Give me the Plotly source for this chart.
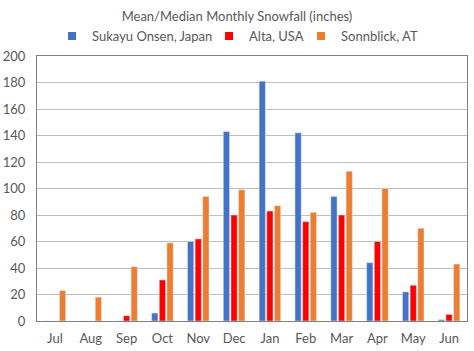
import plotly.graph_objects as go

months = ["Jul", "Aug", "Sep", "Oct", "Nov", "Dec", "Jan", "Feb", "Mar", "Apr", "May", "Jun"]
sukayu = [0, 0, 0, 6, 60, 143, 181, 142, 94, 44, 22, 1]
alta = [0, 0, 4, 31, 62, 80, 83, 75, 80, 60, 27, 5]
sonnblick = [23, 18, 41, 59, 94, 99, 87, 82, 113, 100, 70, 43]
yticks = [0, 20, 40, 60, 80, 100, 120, 140, 160, 180, 200]
series = [
    ("Sukayu Onsen, Japan", sukayu, "#4472C4"),
    ("Alta, USA", alta, "#FF0000"),
    ("Sonnblick, AT", sonnblick, "#ED7D31"),
]
legend_widths = [112, 47, 80]

font = "Lato, 'Open Sans', sans-serif"
txt = "#595959"

fig = go.Figure()
for name, vals, col in series:
    fig.add_bar(x=months, y=vals, name=name, marker_color=col, showlegend=False,
                legendgroup=name)
for (name, vals, col), lw in zip(series, legend_widths):
    fig.add_scatter(x=[None], y=[None], mode="markers", name=name, legendgroup=name,
                    legendwidth=lw,
                    marker=dict(symbol="square", size=8, color=col), showlegend=True)

fig.update_layout(
    width=474, height=351,
    margin=dict(l=37, r=7, t=56, b=30),
    paper_bgcolor="white", plot_bgcolor="white",
    barmode="group", bargap=0.36, bargroupgap=0.18,
    font=dict(family=font, size=13, color=txt),
    title=dict(text="Mean/Median Monthly Snowfall (inches)", x=0.5, xanchor="center",
               y=0.953, yanchor="middle", font=dict(size=13, color=txt, family=font)),
    legend=dict(orientation="h", x=0.035, xanchor="left", y=1.075, yanchor="middle",
                font=dict(size=13, color=txt, family=font), itemwidth=30,
                bgcolor="rgba(0,0,0,0)", traceorder="normal"),
    xaxis=dict(showgrid=False, showline=True, linecolor="#808080", linewidth=1,
               mirror=True, ticks="outside", ticklen=5, tickcolor="rgba(0,0,0,0)",
               tickfont=dict(size=13, color=txt), automargin=False),
    yaxis=dict(range=[0, 200], tickvals=yticks, showgrid=True, gridcolor="#BFBFBF",
               gridwidth=1, showline=True, linecolor="#808080", linewidth=1, mirror=True,
               ticks="outside", ticklen=8, tickcolor="rgba(0,0,0,0)", zeroline=False,
               tickfont=dict(size=13, color=txt), automargin=False),
)
fig.write_html("out.html")
